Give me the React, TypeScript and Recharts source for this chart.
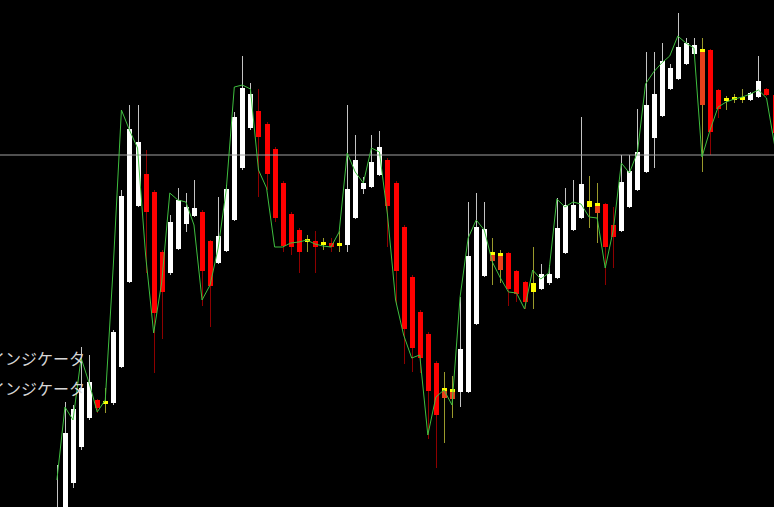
import React from "react";
import { ComposedChart, Bar, Line, XAxis, YAxis, ReferenceLine } from "recharts";

// Candle values (price units, higher = up)
const opens = [
  -38, -13, 24, 60, 89, 107, 105, 104, 140, 225,
  301, 333, 315, 255, 234, 258, 283, 291, 295, 266,
  244, 256, 287, 339, 379, 396, 383, 358, 324, 293,
  277, 267, 266, 264, 264, 263, 262, 289, 318, 320,
  332, 347, 324, 280, 230, 195, 173, 144, 119, 118,
  115, 115, 183, 231, 255, 254, 254, 236, 225, 215,
  218, 224, 229, 254, 277, 289, 300, 304, 303, 282,
  276, 300, 317, 335, 369, 391, 418, 428, 443, 453,
  458, 457, 417, 408, 408, 408, 407, 410, 418, 412,
];
const closes = [
  -8, 74, 98, 119, 125, 99, 104, 175, 311, 378,
  365, 295, 194, 215, 285, 307, 300, 299, 236, 221,
  271, 318, 390, 419, 413, 370, 333, 289, 261, 260,
  255, 266, 260, 263, 260, 262, 318, 347, 324, 345,
  360, 301, 236, 178, 159, 149, 116, 92, 109, 108,
  158, 251, 280, 278, 246, 237, 218, 213, 205, 224,
  233, 233, 279, 302, 302, 323, 306, 294, 260, 270,
  325, 336, 355, 402, 413, 446, 439, 460, 464, 462,
  402, 375, 398, 405, 409, 409, 414, 426, 412, 374,
];
const highs = [
  42, 105, 102, 160, 152, 108, 119, 177, 317, 402,
  402, 357, 317, 257, 292, 319, 314, 327, 297, 267,
  310, 322, 395, 451, 424, 418, 385, 360, 326, 295,
  279, 272, 276, 269, 269, 276, 402, 372, 330, 372,
  376, 349, 326, 282, 232, 197, 175, 146, 135, 131,
  210, 305, 314, 305, 269, 257, 255, 237, 226, 260,
  243, 242, 309, 319, 327, 390, 331, 324, 304, 300,
  352, 352, 398, 455, 455, 464, 443, 494, 469, 469,
  469, 458, 418, 411, 413, 418, 415, 451, 419, 413,
];
const lows = [
  -53, -23, 19, 57, 87, 94, 94, 102, 139, 224,
  300, 234, 134, 168, 232, 257, 275, 290, 201, 180,
  243, 255, 286, 337, 377, 310, 317, 285, 255, 252,
  234, 255, 234, 257, 255, 255, 255, 288, 313, 319,
  331, 260, 202, 143, 135, 134, 68, 39, 64, 89,
  100, 114, 182, 230, 222, 224, 201, 205, 198, 198,
  217, 222, 228, 253, 276, 288, 279, 264, 222, 239,
  275, 299, 316, 334, 339, 390, 417, 427, 442, 452,
  335, 352, 389, 397, 404, 404, 406, 409, 411, 367,
];
// Indicator line (green)
const indicator = [
  27, 100, 87, 149, 124, 95, 107, 242, 397, 377,
  359, 252, 174, 225, 314, 307, 305, 282, 207, 222,
  259, 317, 420, 422, 418, 337, 319, 260, 260, 264,
  265, 267, 263, 261, 260, 275, 354, 335, 324, 359,
  355, 292, 207, 172, 149, 152, 72, 110, 117, 102,
  210, 269, 287, 277, 245, 229, 215, 214, 198, 237,
  228, 234, 308, 300, 305, 303, 290, 289, 239, 277,
  344, 334, 355, 423, 435, 444, 451, 471, 464, 459,
  350, 377, 400, 405, 408, 410, 413, 417, 409, 362,
];
// Candles flagged by the indicator
const signals = [6, 31, 33, 35, 48, 49, 54, 55, 59, 66, 67, 80, 83, 84, 85];
const levelPrice = 352;
const labelLines = ["インジケータ", "インジケータ"];

const data = opens.map((o, i) => ({
  idx: i,
  open: o,
  close: closes[i],
  high: highs[i],
  low: lows[i],
  ind: indicator[i],
  sig: signals.includes(i),
}));

const Candle = (props: any) => {
  const { x, y, width, height, payload } = props;
  if (!payload || x == null) return null;
  const top = Math.min(y, y + height);
  const bot = Math.max(y, y + height);
  const { open, close, high, low, sig } = payload;
  const span = high - low;
  const py = (v: number) => (span === 0 ? top : top + ((high - v) / span) * (bot - top));
  const c = Math.round(x + width / 2);
  const yO = py(open);
  const yC = py(close);
  const bTop = Math.min(yO, yC);
  const bH = Math.max(Math.abs(yC - yO), 1);
  const bull = close >= open;
  let wick = bull ? "#c4c4c4" : "#8e0000";
  let body = bull ? "#ffffff" : "#ff0000";
  const parts: any[] = [];
  if (sig) {
    wick = "#9a9a2c";
    body = bull ? "#ffff00" : "#e8421c";
  }
  parts.push(
    <rect key="w" x={c} y={top} width={1} height={Math.max(bot - top, 1)} fill={wick} />
  );
  if (sig && bH <= 3) {
    parts.push(<rect key="b" x={c - 2} y={bTop - 1} width={5} height={2.5} fill="#ffff00" />);
  } else {
    parts.push(<rect key="b" x={c - 2} y={bTop} width={5} height={bH} fill={body} />);
    if (sig && !bull) {
      parts.push(<rect key="cap" x={c - 2} y={bTop} width={5} height={2.5} fill="#ffff00" />);
    }
  }
  return <g shapeRendering="crispEdges">{parts}</g>;
};

export default function App() {
  return (
    <div
      style={{
        position: "relative",
        width: 774,
        height: 507,
        background: "#000",
        overflow: "hidden",
      }}
    >
      <style>{"body{margin:0;background:#000;}"}</style>
      <ComposedChart
        width={774}
        height={507}
        data={data}
        margin={{ top: 0, right: 0, bottom: 0, left: 0 }}
        style={{ background: "#000" }}
      >
        <XAxis
          dataKey="idx"
          type="number"
          domain={[-7.056, 88.93]}
          allowDataOverflow
          hide
        />
        <YAxis type="number" domain={[0, 507]} allowDataOverflow hide />
        <ReferenceLine y={levelPrice} stroke="#a0a0a0" strokeWidth={1} ifOverflow="extendDomain" />
        <Bar
          dataKey={(d: any) => [d.low, d.high]}
          barSize={6}
          shape={(p: any) => <Candle {...p} />}
          isAnimationActive={false}
        />
        <Line
          dataKey="ind"
          type="linear"
          stroke="#3fbf3f"
          strokeWidth={1}
          dot={false}
          activeDot={false}
          isAnimationActive={false}
        />
      </ComposedChart>
      {labelLines.map((t, i) => (
        <div
          key={i}
          style={{
            position: "absolute",
            left: -11,
            top: 349 + i * 30,
            fontFamily: "'Noto Sans CJK JP', sans-serif",
            fontSize: 16,
            lineHeight: "18px",
            color: "#d6d6d6",
            whiteSpace: "nowrap",
          }}
        >
          {t}
        </div>
      ))}
    </div>
  );
}
